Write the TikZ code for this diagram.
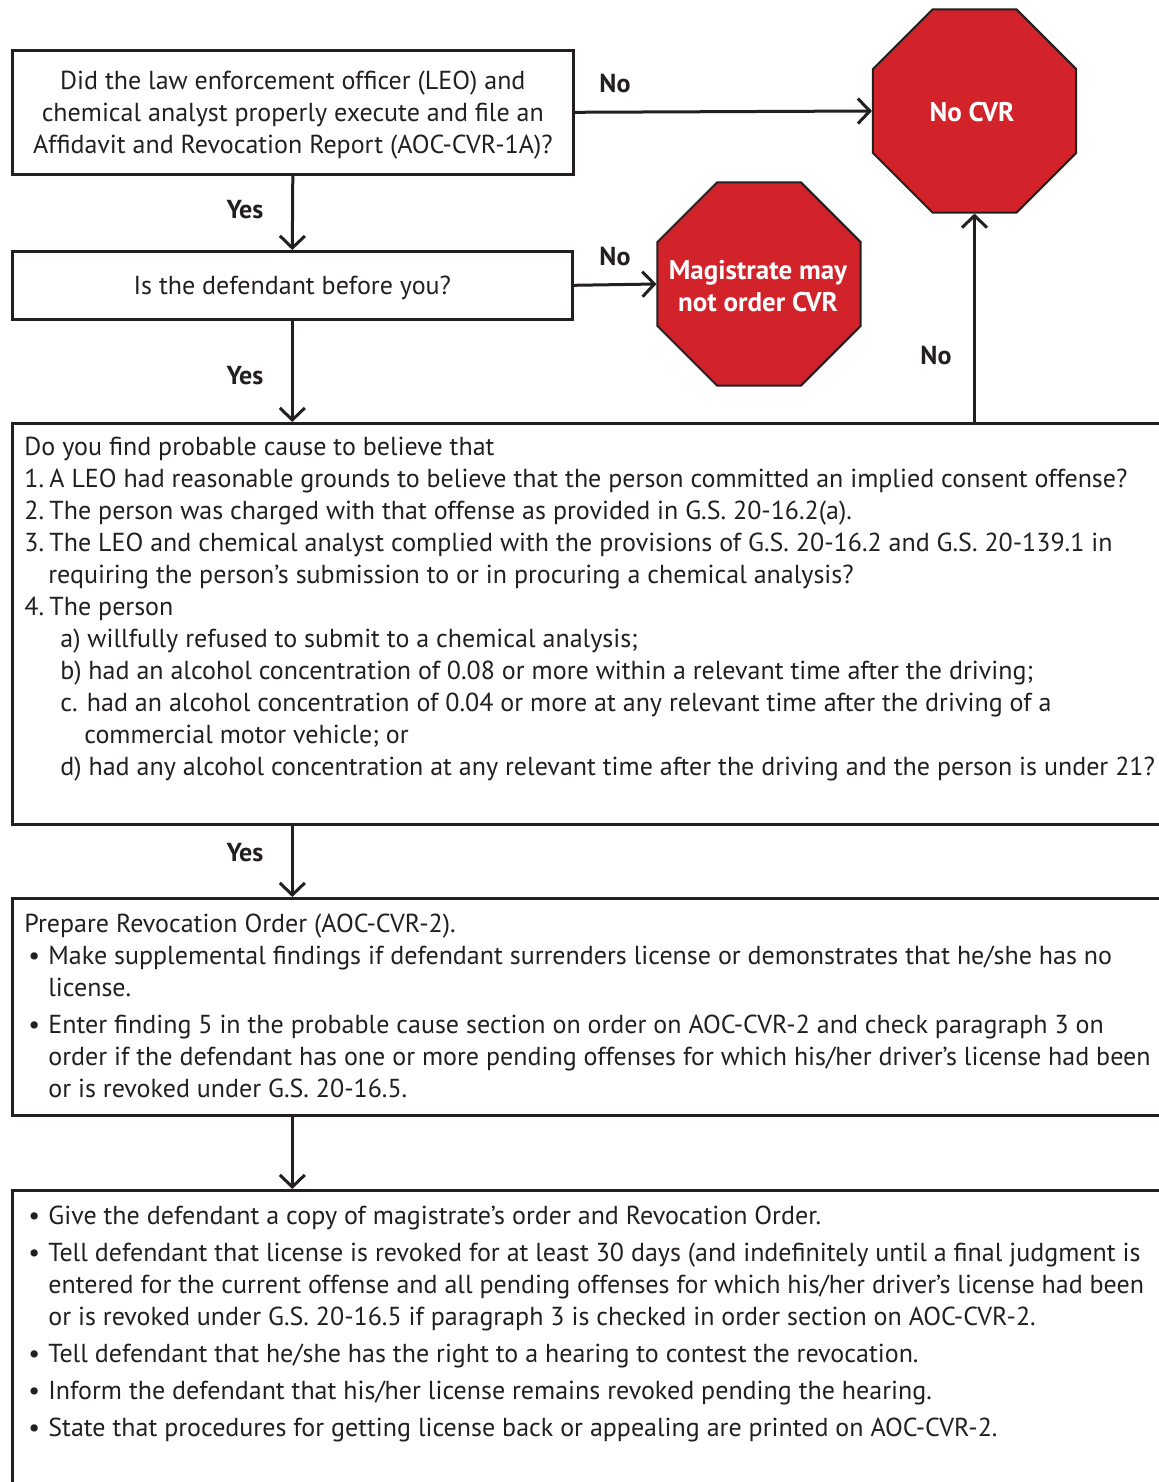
\documentclass[tikz,border=0pt]{standalone}
\usepackage{fontspec}
\setmainfont{PT Sans}
\usetikzlibrary{arrows.meta,shapes.geometric}
\definecolor{ink}{RGB}{35,31,32}
\definecolor{stopred}{RGB}{210,35,42}
\newcommand{\bul}{\makebox[12pt][l]{\hspace{2pt}\textbullet}}
\newcommand{\num}[1]{\makebox[12.5pt][l]{#1}}

\begin{document}
\begin{tikzpicture}[x=0.5pt,y=-0.5pt,
every node/.style={text=ink,font=\fontsize{13}{16}\selectfont,inner sep=0pt},
box/.style={draw=ink,line width=1.3pt,anchor=north west},
body/.style={anchor=north west,align=left},
answer/.style={font=\fontsize{13}{16}\selectfont\bfseries},
stop/.style={regular polygon,regular polygon sides=8,minimum size=109.9pt,
  fill=stopred,draw=ink,line width=1pt},
stoptext/.style={text=white,align=center,font=\fontsize{13.5}{16}\selectfont\bfseries},
flow/.style={draw=ink,line width=1.5pt,-{Straight Barb[length=6pt,width=12.5pt]}}
]
\useasboundingbox (0,0) rectangle (1159,1482);
\clip (0,0) rectangle (1159,1482);

% question boxes
\node[box,minimum width=280.5pt,minimum height=62pt,align=center,text depth=0pt] at (11,49) (leo)
  {Did the law enforcement officer (LEO) and\\chemical analyst properly execute and file an\\Affidavit and Revocation Report (AOC-CVR-1A)?};
\node[box,minimum width=280pt,minimum height=34pt,text depth=0pt] at (11,250) (before) {Is the defendant before you?};
\node[box,minimum width=582pt,minimum height=200.5pt] at (11,422) (cause) {};
\node[box,minimum width=582pt,minimum height=108.5pt] at (11,897) (order) {};
\node[box,minimum width=582pt,minimum height=160pt] at (11,1189) (inform) {};

% stop signs
\node[stop] at (974.5,111) (nocvr) {};
\node[stoptext] at (972,112) (nocvrtext) {No CVR};
\node[stop] at (759,284) (maynot) {};
\node[stoptext] at (758,286) (maynottext) {Magistrate may\\not order CVR};

% box texts
\node[body] at (24,437) (causetext) {Do you find probable cause to believe that\\
\num{1.}A LEO had reasonable grounds to believe that the person committed an implied consent offense?\\
\num{2.}The person was charged with that offense as provided in G.S. 20-16.2(a).\\
\num{3.}The LEO and chemical analyst complied with the provisions of G.S. 20-16.2 and G.S. 20-139.1 in\\
\hspace*{12pt}requiring the person’s submission to or in procuring a chemical analysis?\\
\num{4.}The person\\
\hspace*{18pt}a) willfully refused to submit to a chemical analysis;\\
\hspace*{18pt}b) had an alcohol concentration of 0.08 or more within a relevant time after the driving;\\
\hspace*{18pt}c. had an alcohol concentration of 0.04 or more at any relevant time after the driving of a\\
\hspace*{30pt}commercial motor vehicle; or\\
\hspace*{18pt}d) had any alcohol concentration at any relevant time after the driving and the person is under 21?};

\node[body] at (24,914) (ordertext) {Prepare Revocation Order (AOC-CVR-2).\\
\bul Make supplemental findings if defendant surrenders license or demonstrates that he/she has no\\
\hspace*{12pt}license.\\[2.5pt]
\bul Enter finding 5 in the probable cause section on order on AOC-CVR-2 and check paragraph 3 on\\
\hspace*{12pt}order if the defendant has one or more pending offenses for which his/her driver’s license had been\\
\hspace*{12pt}or is revoked under G.S. 20-16.5.};

\node[body] at (24,1206) (informtext) {\bul Give the defendant a copy of magistrate’s order and Revocation Order.\\[2.5pt]
\bul Tell defendant that license is revoked for at least 30 days (and indefinitely until a final judgment is\\
\hspace*{12pt}entered for the current offense and all pending offenses for which his/her driver’s license had been\\
\hspace*{12pt}or is revoked under G.S. 20-16.5 if paragraph 3 is checked in order section on AOC-CVR-2.\\[2.5pt]
\bul Tell defendant that he/she has the right to a hearing to contest the revocation.\\[2.5pt]
\bul Inform the defendant that his/her license remains revoked pending the hearing.\\[2.5pt]
\bul State that procedures for getting license back or appealing are printed on AOC-CVR-2.};

% answers
\node[answer] at (615,84) (no1) {No};
\node[answer] at (245,210) (yes1) {Yes};
\node[answer] at (615,257) (no2) {No};
\node[answer] at (245,376) (yes2) {Yes};
\node[answer] at (936,356) (no3) {No};
\node[answer] at (245,853) (yes3) {Yes};

\draw[flow] (leo.east) -- (nocvr.west);
\draw[flow] (leo.south) -- (before.north);
\draw[flow] (before.east) -- (maynot.west);
\draw[flow] (before.south) -- (before.south |- cause.north);
\draw[flow] (nocvr.south |- cause.north) -- (nocvr.south);
\draw[flow] (before.south |- cause.south) -- (before.south |- order.north);
\draw[flow] (before.south |- order.south) -- (before.south |- inform.north);
\end{tikzpicture}
\end{document}
